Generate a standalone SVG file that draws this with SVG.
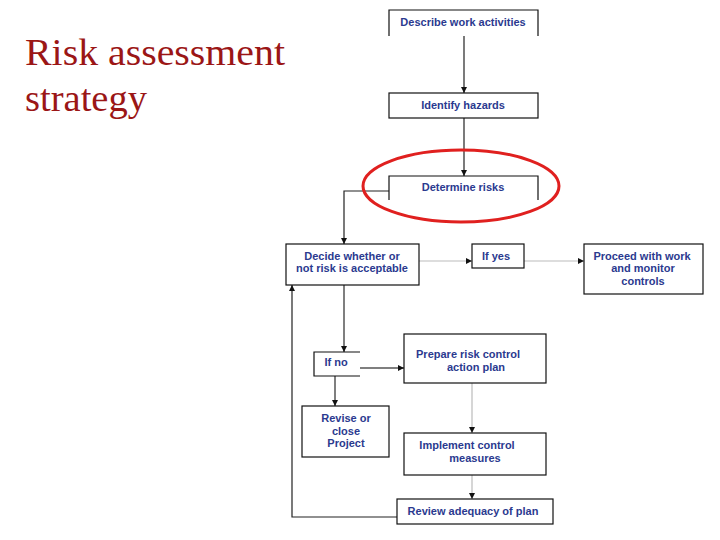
<svg xmlns="http://www.w3.org/2000/svg" width="720" height="540" viewBox="0 0 720 540">
<style>
.title{font-family:"Liberation Serif","Times New Roman",serif;font-size:38px;fill:#9b1616}
.lbl{font-family:"Liberation Sans",Arial,sans-serif;font-size:11px;font-weight:bold;fill:#2b3a8f;text-anchor:middle}
.box{fill:#fff;stroke:#111;stroke-width:1.2}
.open{fill:none;stroke:#111;stroke-width:1.2}
.dk{fill:none;stroke:#222;stroke-width:1.2}
.gr{fill:none;stroke:#555;stroke-width:1.5}
.lt{fill:none;stroke:#bbb;stroke-width:1.2}
</style>
<defs>
<marker id="ah" viewBox="0 0 10 10" refX="10" refY="5" markerWidth="6" markerHeight="6" orient="auto" markerUnits="userSpaceOnUse">
<path d="M0,0 L10,5 L0,10 z" fill="#111"/>
</marker>
</defs>
<rect width="720" height="540" fill="#fff"/>
<text class="title" x="25" y="65" textLength="260" lengthAdjust="spacingAndGlyphs">Risk assessment</text>
<text class="title" x="25" y="111" textLength="122" lengthAdjust="spacingAndGlyphs">strategy</text>

<g id="connectors">
<line class="dk" x1="464" y1="36" x2="464" y2="93" marker-end="url(#ah)"/>
<line class="dk" x1="464" y1="118" x2="464" y2="176" marker-end="url(#ah)"/>
<polyline class="dk" points="389,191 344,191 344,244" marker-end="url(#ah)"/>
<line class="lt" x1="419" y1="261" x2="472" y2="261" marker-end="url(#ah)"/>
<line class="lt" x1="524" y1="261" x2="584" y2="261" marker-end="url(#ah)"/>
<line class="gr" x1="344" y1="285" x2="344" y2="352" marker-end="url(#ah)"/>
<line class="gr" x1="360" y1="368" x2="404" y2="368" marker-end="url(#ah)"/>
<line class="gr" x1="335" y1="376" x2="335" y2="406" marker-end="url(#ah)"/>
<line class="lt" x1="472" y1="383" x2="472" y2="433" marker-end="url(#ah)"/>
<line class="lt" x1="472" y1="475" x2="472" y2="499" marker-end="url(#ah)"/>
<polyline class="dk" points="397,517 292,517 292,285" marker-end="url(#ah)"/>
</g>

<g id="describe">
<path class="open" d="M389,36 V10 H538 V36"/>
<text class="lbl" x="463" y="26">Describe work activities</text>
</g>
<g id="identify">
<rect class="box" x="389" y="93" width="149" height="25"/>
<text class="lbl" x="463" y="109">Identify hazards</text>
</g>
<g id="determine">
<path class="open" d="M389,200 V176 H538 V200"/>
<text class="lbl" x="463" y="191">Determine risks</text>
</g>
<g id="highlight">
<ellipse cx="461" cy="186" rx="98" ry="36" fill="none" stroke="#e0201f" stroke-width="3"/>
</g>
<g id="decide">
<rect class="box" x="286" y="244" width="133" height="41"/>
<text class="lbl" x="352" y="260">Decide whether or</text>
<text class="lbl" x="352" y="272">not risk is acceptable</text>
</g>
<g id="ifyes">
<rect class="box" x="472" y="244" width="52" height="24"/>
<text class="lbl" x="496" y="260">If yes</text>
</g>
<g id="proceed">
<rect class="box" x="584" y="244" width="119" height="50"/>
<text class="lbl" x="642" y="260">Proceed with work</text>
<text class="lbl" x="643" y="272">and monitor</text>
<text class="lbl" x="643" y="285">controls</text>
</g>
<g id="ifno">
<path class="open" d="M360,352 H314 V376 H360"/>
<text class="lbl" x="336" y="366">If no</text>
</g>
<g id="prepare">
<rect class="box" x="404" y="334" width="142" height="49"/>
<text class="lbl" x="468" y="358">Prepare risk control</text>
<text class="lbl" x="476" y="371">action plan</text>
</g>
<g id="revise">
<rect class="box" x="302" y="406" width="87" height="51"/>
<text class="lbl" x="346" y="422">Revise or</text>
<text class="lbl" x="346" y="435">close</text>
<text class="lbl" x="346" y="447">Project</text>
</g>
<g id="implement">
<rect class="box" x="404" y="433" width="142" height="42"/>
<text class="lbl" x="467" y="449">Implement control</text>
<text class="lbl" x="475" y="462">measures</text>
</g>
<g id="review">
<rect class="box" x="397" y="499" width="156" height="25"/>
<text class="lbl" x="473" y="515">Review adequacy of plan</text>
</g>
</svg>
